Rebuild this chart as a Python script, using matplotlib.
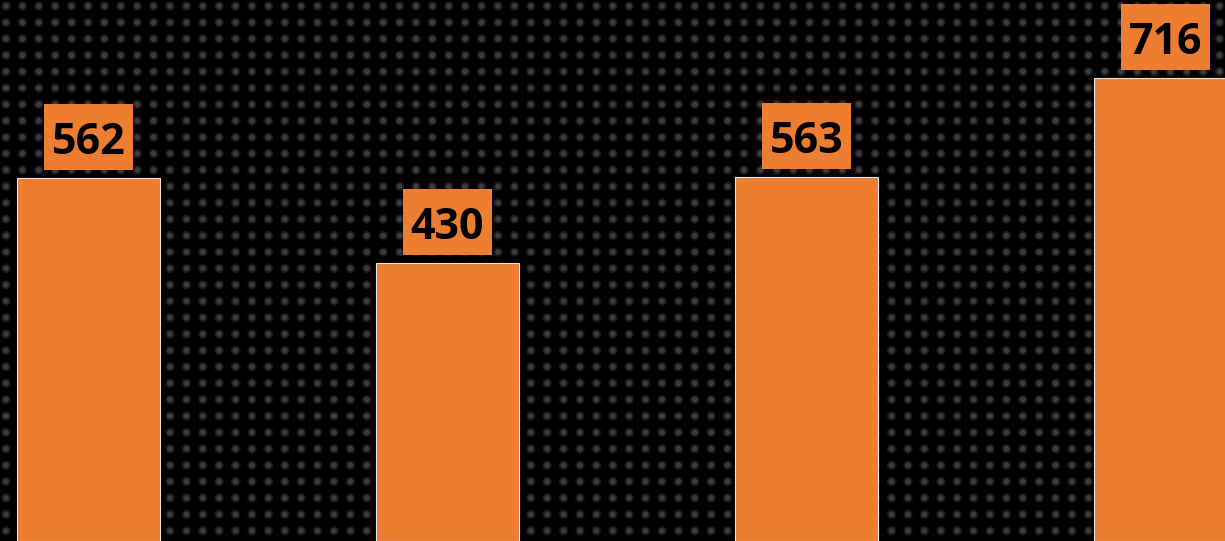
import numpy as np
import matplotlib.pyplot as plt
from matplotlib.offsetbox import DrawingArea, AnnotationBbox
from matplotlib.patches import Rectangle

# data
categories = ['A', 'B', 'C', 'D']
values = [562, 430, 563, 716]

bar_color = '#ED7D31'

fig = plt.figure(figsize=(12.25, 5.41), dpi=100, facecolor='black')

# dotted texture in the background
bg = fig.add_axes([0, 0, 1, 1])
bg.set_xlim(0, 1225)
bg.set_ylim(541, 0)
bg.set_facecolor('black')
bg.axis('off')
gx, gy = np.meshgrid(np.arange(6, 1225, 16.4), np.arange(6, 541, 16.4))
bg.scatter(gx.ravel(), gy.ravel(), s=45, color='#1a1a1a', edgecolors='none')
bg.scatter(gx.ravel(), gy.ravel(), s=16, color='#3c3c3c', edgecolors='none')

ax = fig.add_axes([0, 0, 1, 1])
ax.patch.set_alpha(0)
x = np.arange(len(categories))
ax.bar(x, values, width=0.4, color=bar_color, edgecolor='#e6e6e6', linewidth=0.8)

# label boxes, 89 x 66 px
bw, bh = 89 * 72 / 100, 66 * 72 / 100
for xi, v in zip(x, values):
    da = DrawingArea(bw, bh, 0, 0)
    da.add_artist(Rectangle((0, 0), bw, bh, facecolor=bar_color, edgecolor='none'))
    ab = AnnotationBbox(da, (xi, v), xybox=(0, 41), boxcoords='offset pixels',
                        frameon=False, pad=0, box_alignment=(0.5, 0.5))
    ax.add_artist(ab)
    ax.annotate(str(v), (xi, v), xytext=(0, 24), textcoords='offset pixels',
                ha='center', va='baseline', fontsize=31, fontweight='bold',
                family='Open Sans', color='black')

ax.set_xlim(-0.2465, 3.166)
ax.set_ylim(0, 837)
ax.axis('off')

plt.savefig('out.png', dpi=100, facecolor='black')
